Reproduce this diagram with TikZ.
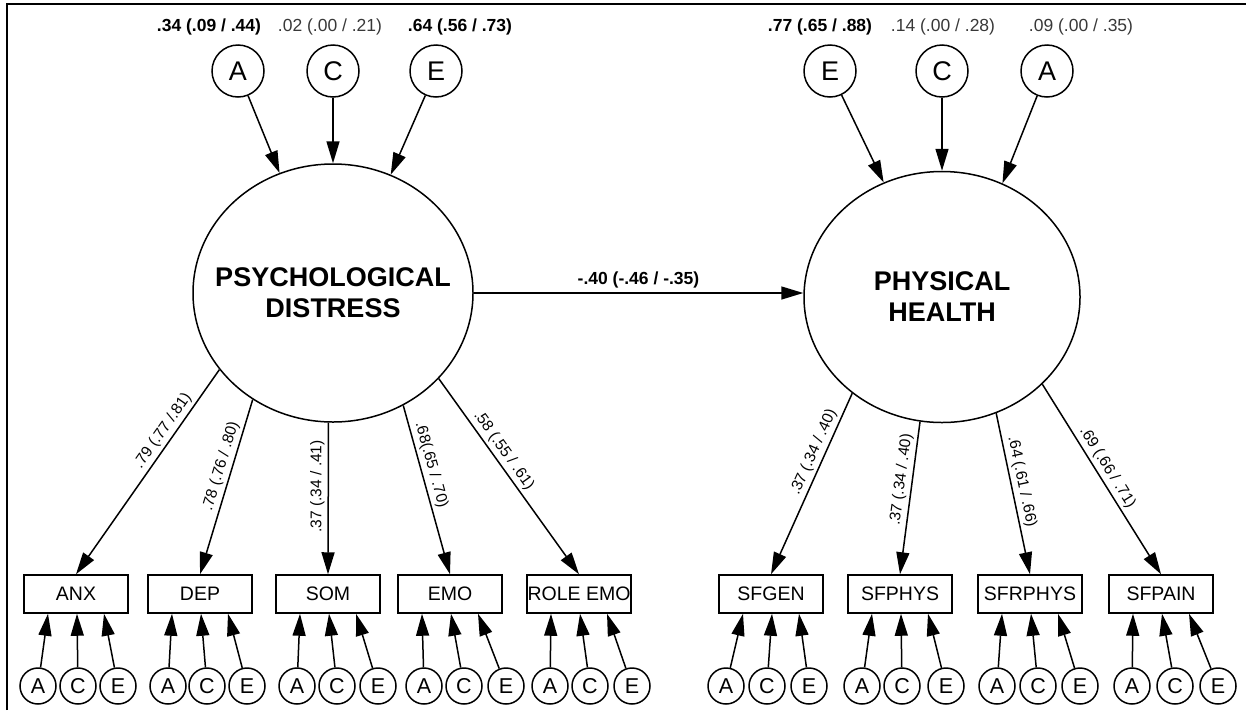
\documentclass[tikz,border=0pt]{standalone}
\usepackage{fontspec}
\setmainfont{Liberation Sans}
\usetikzlibrary{arrows.meta,shapes.geometric,calc}

\begin{document}
\begin{tikzpicture}[x=1pt,y=-1pt,
  line width=1.5pt,
  >={Triangle[length=22pt,width=13pt]},
  latent/.style={ellipse, draw, inner sep=0pt},
  latentname/.style={align=center, inner sep=0pt, font=\fontsize{27}{31}\selectfont\bfseries},
  acetop/.style={circle, draw, minimum size=52pt, inner sep=0pt, font=\fontsize{27}{27}\selectfont},
  acesmall/.style={circle, draw, minimum size=36pt, inner sep=0pt, font=\fontsize{21.5}{21.5}\selectfont},
  indicator/.style={rectangle, draw, minimum width=104pt, minimum height=38pt, inner sep=0pt, font=\fontsize{19.5}{19.5}\selectfont},
  estb/.style={font=\fontsize{17.5}{17.5}\selectfont\bfseries},
  estn/.style={font=\fontsize{17.5}{17.5}\selectfont, text=black!78},
  load/.style={font=\fontsize{15.5}{15.5}\selectfont, sloped, above, inner sep=3pt},
]
\useasboundingbox (0,0) rectangle (1246,710);

% frame
\draw[line width=2.5pt] (7,710) -- (7,4) -- (1246,4);

% latent factors
\node[latent, minimum width=280pt, minimum height=258pt] (pd) at (333,293) {};
\node[latentname] (pdname) at (pd.center) {PSYCHOLOGICAL\\DISTRESS};
\node[latent, minimum width=276pt, minimum height=251pt] (ph) at (942,297) {};
\node[latentname] (phname) at (ph.center) {PHYSICAL\\HEALTH};

% ACE components of the latent factors
\node[acetop] (pdA) at (238,71) {A};
\node[acetop] (pdC) at (333,71) {C};
\node[acetop] (pdE) at (436,71) {E};
\node[estb] (pdAest) at (209,27) {.34 (.09 / .44)};
\node[estn] (pdCest) at (330,27) {.02 (.00 / .21)};
\node[estb] (pdEest) at (460,27) {.64 (.56 / .73)};

\node[acetop] (phE) at (830,71) {E};
\node[acetop] (phC) at (942,71) {C};
\node[acetop] (phA) at (1047,71) {A};
\node[estb] (phEest) at (820,27) {.77 (.65 / .88)};
\node[estn] (phCest) at (943,27) {.14 (.00 / .28)};
\node[estn] (phAest) at (1081,27) {.09 (.00 / .35)};

\draw[->] (pdA) -- (pd.114);
\draw[->] (pdC) -- (pd.90);
\draw[->] (pdE) -- (pd.64);
\draw[->] (phE) -- (ph.117);
\draw[->] (phC) -- (ph.90);
\draw[->] (phA) -- (ph.62);

% structural path
\draw[->] (pd.east) -- (pd.east -| ph.west)
  node[midway, above, estb, inner sep=4pt] {-.40 (-.46 / -.35)};

% indicators
\node[indicator] (anx) at (76,594) {ANX};
\node[indicator] (dep) at (200,594) {DEP};
\node[indicator] (som) at (328,594) {SOM};
\node[indicator] (emo) at (450,594) {EMO};
\node[indicator] (role) at (579,594) {ROLE EMO};
\node[indicator] (sfgen) at (771,594) {SFGEN};
\node[indicator] (sfphys) at (900,594) {SFPHYS};
\node[indicator] (sfrphys) at (1030,594) {SFRPHYS};
\node[indicator] (sfpain) at (1161,594) {SFPAIN};

% loadings
\draw[->] (pd.214) -- (anx.north) node[load, pos=.33] {.79 (.77 /.81)};
\draw[->] (pd.233) -- (dep.north) node[load, pos=.4] {.78 (.76 / .80)};
\draw[->] (pd.268) -- (som.north)
  node[pos=.42, rotate=90, anchor=south, inner sep=3pt, font=\fontsize{15.5}{15.5}\selectfont] {.37 (.34 / .41)};
\draw[->] (pd.302) -- (emo.north) node[load, pos=.37] {.68(.65 / .70)};
\draw[->] (pd.321) -- (role.north) node[load, pos=.4] {.58 (.55 / .61)};
\draw[->] (ph.227) -- (sfgen.north) node[load, pos=.35] {.37 (.34 / .40)};
\draw[->] (ph.260) -- (sfphys.north) node[load, pos=.39] {.37 (.34 / .40)};
\draw[->] (ph.295) -- (sfrphys.north) node[load, pos=.44] {.64 (.61 / .66)};
\draw[->] (ph.319) -- (sfpain.north) node[load, pos=.47] {.69 (.66 / .71)};

% ACE components of the indicators
\foreach \b/\xa/\xc/\xe in {anx/38/78/118, dep/168/207/247, som/297/337/378,
    emo/424/464/506, role/550/590/632, sfgen/726/767/809, sfphys/862/902/946,
    sfrphys/997/1038/1080, sfpain/1132/1175/1218} {
  \node[acesmall] (\b-A) at (\xa,686) {A};
  \node[acesmall] (\b-C) at (\xc,686) {C};
  \node[acesmall] (\b-E) at (\xe,686) {E};
  \draw[->] (\b-A) -- ($(\b.south)+(-28,0)$);
  \draw[->] (\b-C) -- ($(\b.south)+(1,0)$);
  \draw[->] (\b-E) -- ($(\b.south)+(28,0)$);
}
\end{tikzpicture}
\end{document}
